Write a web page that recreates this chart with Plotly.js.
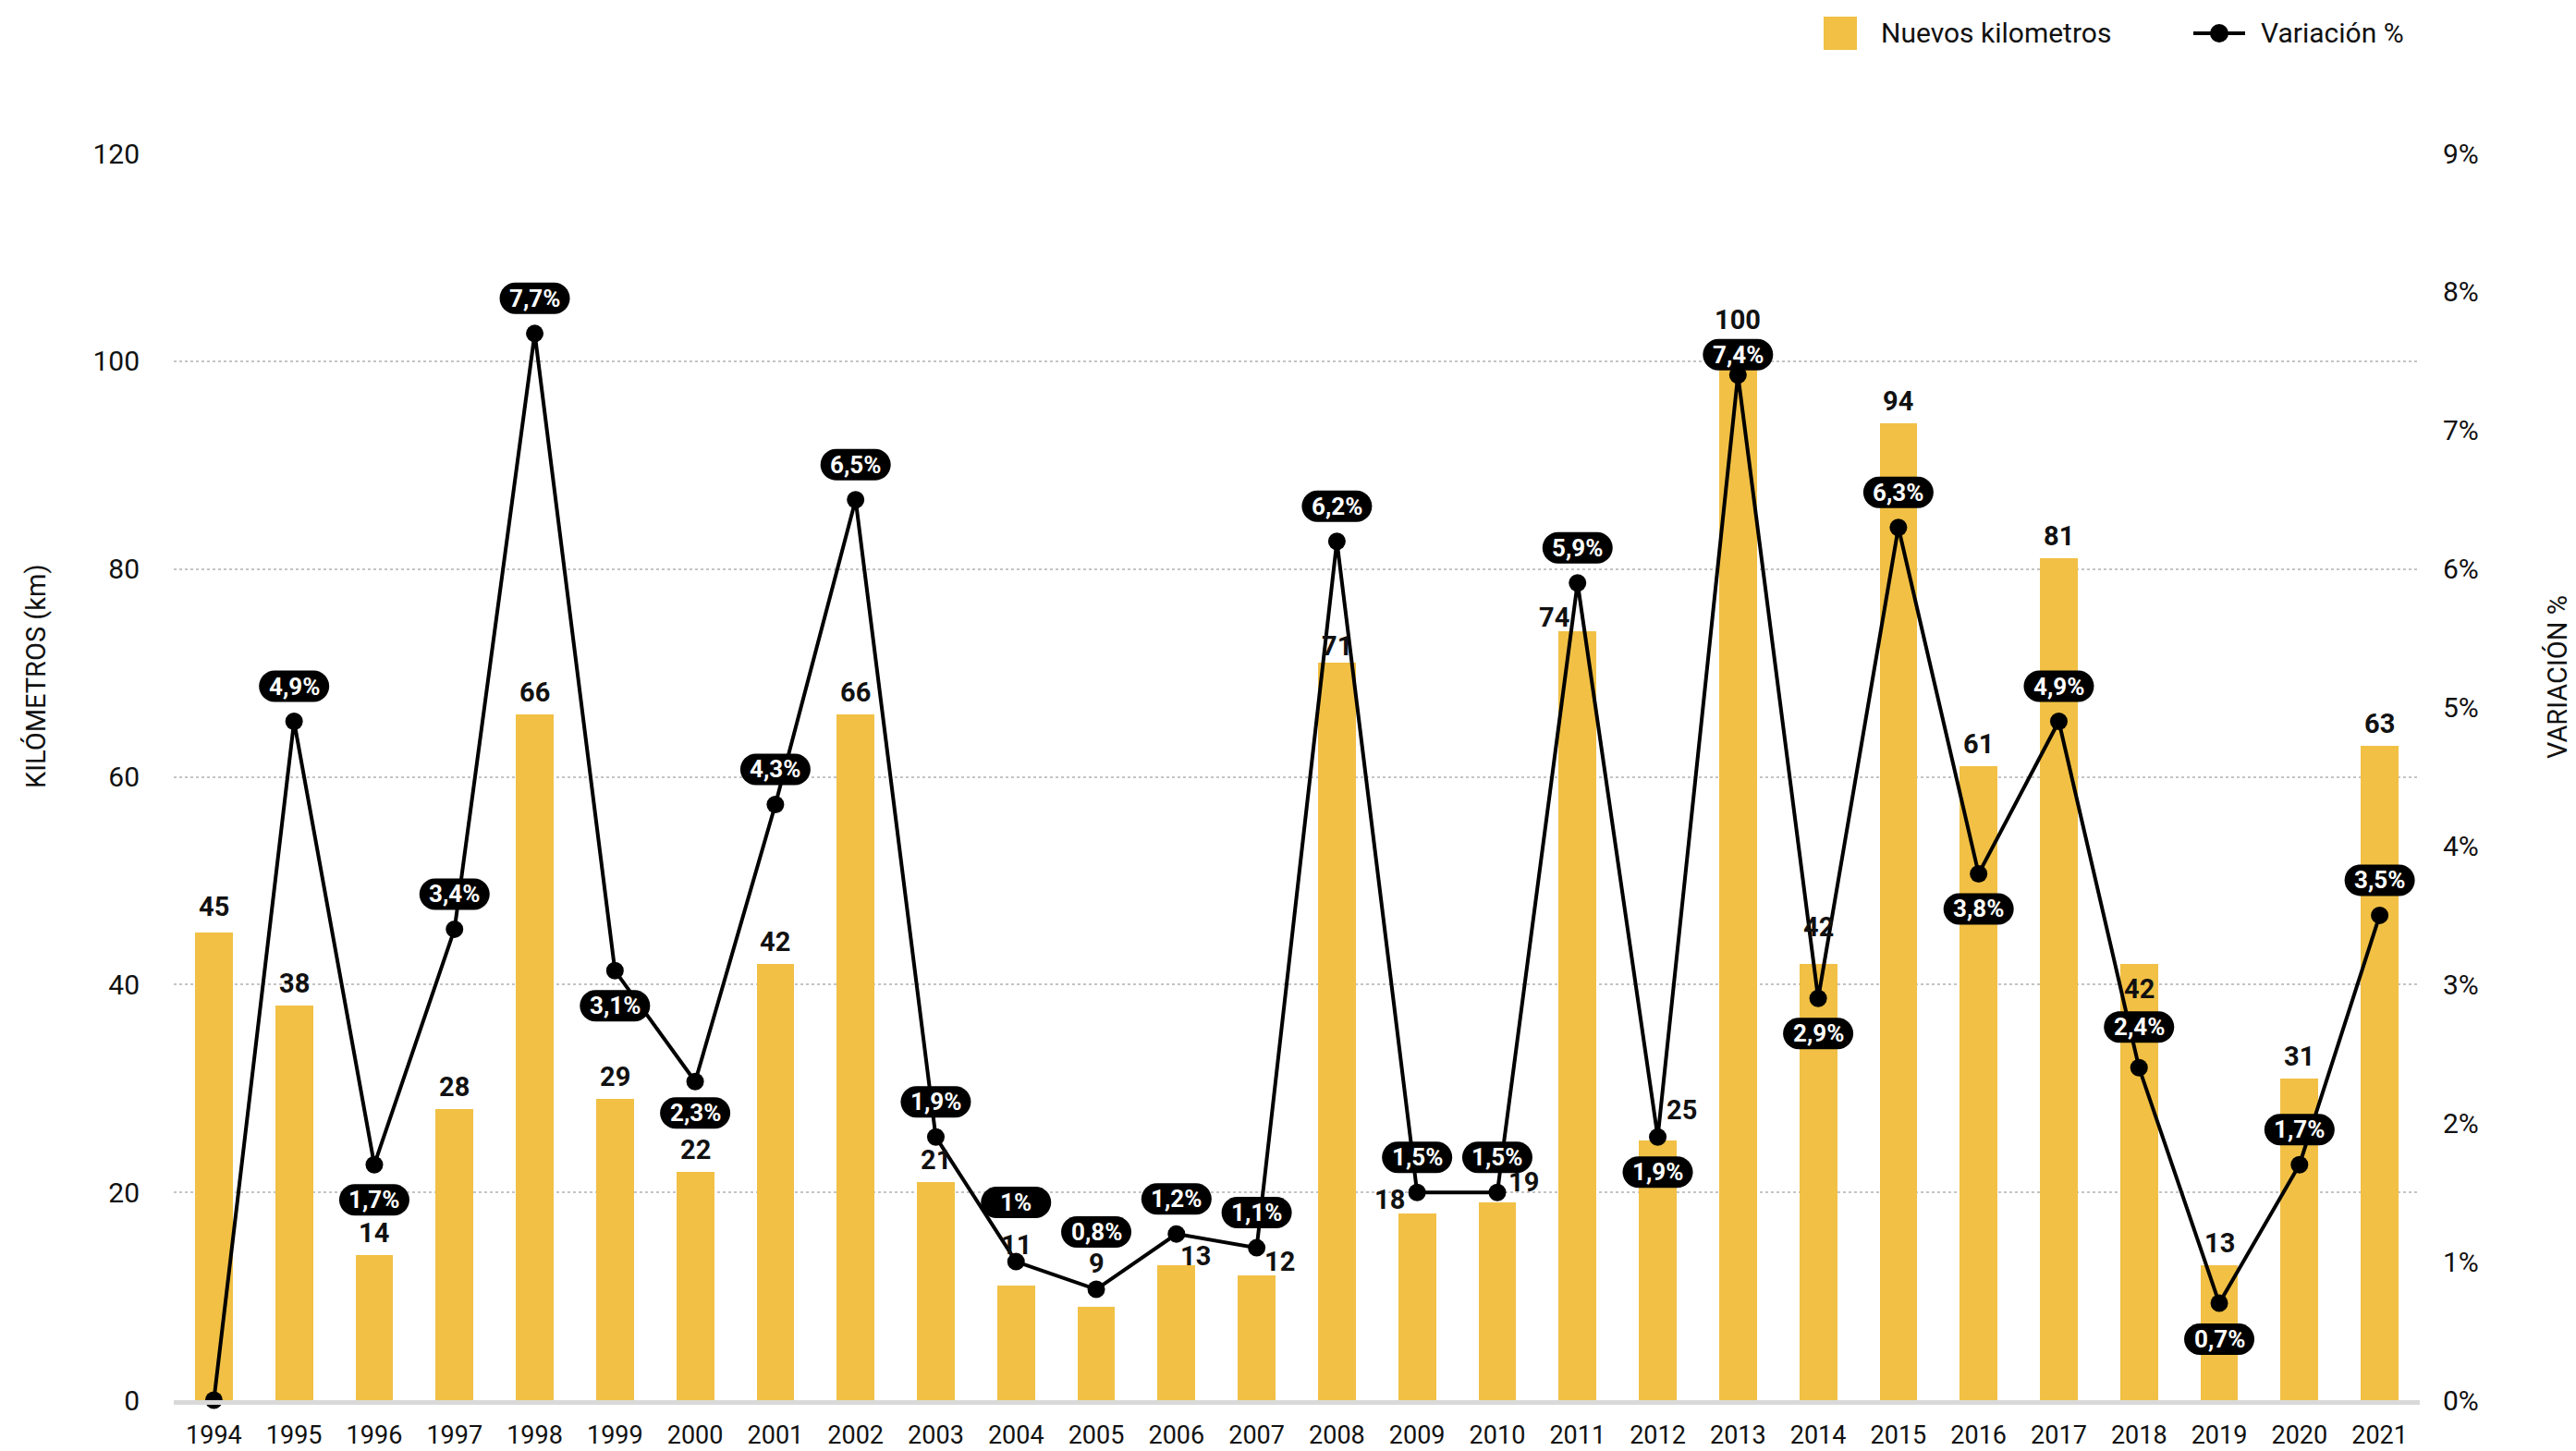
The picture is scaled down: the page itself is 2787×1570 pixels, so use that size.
<!DOCTYPE html>
<html>
<head>
<meta charset="utf-8">
<script src="https://cdn.plot.ly/plotly-3.0.1.min.js"></script>
<style>html,body{margin:0;padding:0;background:#fff;}</style>
</head>
<body>
<div id="chart" style="width:2787px;height:1570px;"></div>
<script>
// ---- data ----
const years = [1994,1995,1996,1997,1998,1999,2000,2001,2002,2003,2004,2005,2006,2007,2008,2009,2010,2011,2012,2013,2014,2015,2016,2017,2018,2019,2020,2021];
const nuevosKm = [45,38,14,28,66,29,22,42,66,21,11,9,13,12,71,18,19,74,25,100,42,94,61,81,42,13,31,63];
const variacionPct = [0,4.9,1.7,3.4,7.7,3.1,2.3,4.3,6.5,1.9,1.0,0.8,1.2,1.1,6.2,1.5,1.5,5.9,1.9,7.4,2.9,6.3,3.8,4.9,2.4,0.7,1.7,3.5];
const leftTicks = [0,20,40,60,80,100,120];
const rightTicks = [0,1,2,3,4,5,6,7,8,9];

// ---- styling (label placement offsets in pixels) ----
const barLabelShift = {   // index -> [xshift, yshift of label centre above bar top]
  0:[0,28], 10:[0,44], 11:[0,47], 12:[21,10], 13:[25,15],
  14:[0,18], 15:[-30,15], 16:[29,22], 17:[-25,15], 18:[26,33], 19:[0,45], 20:[0,40],
  24:[0,-27]
};
const pillShift = { // index -> y offset of pill centre relative to marker (up positive)
  2:-38, 5:-38, 6:-34, 10:64, 11:62, 12:38, 18:-38, 19:22, 20:-38, 22:-38, 24:44, 25:-39
};
const YELLOW = '#F1C045';
const FONT = 'Roboto, "Noto Sans", sans-serif';
const W = 2787, H = 1570;
const M = {l:188, r:169, t:166, b:55};
const plotW = W - M.l - M.r, plotH = H - M.t - M.b;
const px2x = p => (p - M.l) / plotW;
const px2y = p => (H - M.b - p) / plotH;

const idx = years.map((_, i) => i);

const traces = [
  {
    type: 'bar', x: idx, y: nuevosKm, width: 0.47,
    marker: {color: YELLOW}, name: 'Nuevos kilometros', hoverinfo: 'skip',
    showlegend: false
  },
  {
    type: 'scatter', mode: 'lines+markers', x: idx, y: variacionPct, yaxis: 'y2',
    line: {color: '#000', width: 4}, marker: {color: '#000', size: 19},
    name: 'Variación %', showlegend: false, cliponaxis: false
  }
];

const annotations = [];
const shapes = [];

// bar value labels
nuevosKm.forEach((v, i) => {
  const s = barLabelShift[i] || [0, 24];
  annotations.push({
    x: i, y: v, xref: 'x', yref: 'y', text: String(v), showarrow: false,
    xanchor: 'center', yanchor: 'middle', xshift: s[0], yshift: s[1],
    font: {family: FONT, size: 29, color: '#111', weight: 'bold'}
  });
});

// pill labels for the variation series
function pillPath(w, h, dy) {
  const r = h / 2, a = w / 2 - r, k = 0.5523 * r;
  return `M ${-a} ${dy - r} L ${a} ${dy - r} ` +
    `C ${a + k} ${dy - r} ${a + r} ${dy - k} ${a + r} ${dy} ` +
    `C ${a + r} ${dy + k} ${a + k} ${dy + r} ${a} ${dy + r} ` +
    `L ${-a} ${dy + r} ` +
    `C ${-a - k} ${dy + r} ${-a - r} ${dy + k} ${-a - r} ${dy} ` +
    `C ${-a - r} ${dy - k} ${-a - k} ${dy - r} ${-a} ${dy - r} Z`;
}
variacionPct.forEach((v, i) => {
  if (v === 0) return;
  const dy = (pillShift[i] !== undefined) ? pillShift[i] : 38;
  const label = String(v).replace('.', ',') + '%';
  shapes.push({
    type: 'path', xref: 'x', yref: 'y2', xsizemode: 'pixel', ysizemode: 'pixel',
    xanchor: i, yanchor: v, path: pillPath(76, 34, dy),
    fillcolor: '#000', line: {width: 0}, layer: 'above'
  });
  annotations.push({
    x: i, y: v, xref: 'x', yref: 'y2', text: label, showarrow: false,
    xanchor: 'center', yanchor: 'middle', yshift: dy,
    font: {family: FONT, size: 26, color: '#fff', weight: 'bold'}
  });
});

// axis titles
annotations.push({
  xref: 'paper', yref: 'paper', x: px2x(39), y: px2y(732), text: 'KILÓMETROS (km)',
  textangle: -90, showarrow: false, xanchor: 'center', yanchor: 'middle',
  font: {family: FONT, size: 29, color: '#111'}
});
annotations.push({
  xref: 'paper', yref: 'paper', x: px2x(2767), y: px2y(733), text: 'VARIACIÓN %',
  textangle: -90, showarrow: false, xanchor: 'center', yanchor: 'middle',
  font: {family: FONT, size: 29, color: '#111'}
});

// manual legend
const legY = px2y(36);
shapes.push({
  type: 'rect', xref: 'paper', yref: 'paper', xsizemode: 'pixel', ysizemode: 'pixel',
  xanchor: px2x(1991), yanchor: legY, x0: -18, x1: 18, y0: -18, y1: 18,
  fillcolor: YELLOW, line: {width: 0}
});
annotations.push({
  xref: 'paper', yref: 'paper', x: px2x(2033), y: legY, text: 'Nuevos kilometros',
  showarrow: false, xanchor: 'left', yanchor: 'middle',
  font: {family: FONT, size: 30, color: '#111'}
});
shapes.push({
  type: 'line', xref: 'paper', yref: 'paper', xsizemode: 'pixel', ysizemode: 'pixel',
  xanchor: px2x(2401), yanchor: legY, x0: -28, x1: 28, y0: 0, y1: 0,
  line: {color: '#000', width: 4}
});
shapes.push({
  type: 'circle', xref: 'paper', yref: 'paper', xsizemode: 'pixel', ysizemode: 'pixel',
  xanchor: px2x(2401), yanchor: legY, x0: -10, x1: 10, y0: -10, y1: 10,
  fillcolor: '#000', line: {width: 0}
});
annotations.push({
  xref: 'paper', yref: 'paper', x: px2x(2444), y: legY, text: 'Variación %',
  showarrow: false, xanchor: 'left', yanchor: 'middle',
  font: {family: FONT, size: 30, color: '#111'}
});

const layout = {
  width: W, height: H,
  margin: M,
  paper_bgcolor: '#fff', plot_bgcolor: '#fff',
  showlegend: false,
  bargap: 0,
  font: {family: FONT, size: 29, color: '#111'},
  xaxis: {
    range: [-0.5, years.length - 0.5], tickmode: 'array', tickvals: idx,
    ticktext: years.map(String), showgrid: false, zeroline: false,
    showline: true, linecolor: '#d9d9d9', linewidth: 5, ticks: '',
    ticklabelstandoff: 10,
    tickfont: {family: FONT, size: 27, color: '#111'}
  },
  yaxis: {
    range: [0, 120], tickmode: 'array', tickvals: leftTicks,
    showgrid: true, gridcolor: '#c4c4c4', gridwidth: 2, griddash: 'dot',
    zeroline: false, showline: false, ticks: '', ticklabelstandoff: 36,
    tickfont: {family: FONT, size: 30, color: '#111'}
  },
  yaxis2: {
    range: [0, 9], tickmode: 'array', tickvals: rightTicks,
    ticktext: rightTicks.map(t => t + '%'),
    overlaying: 'y', side: 'right', showgrid: false, zeroline: false,
    showline: false, ticks: '', ticklabelstandoff: 24,
    tickfont: {family: FONT, size: 30, color: '#111'}
  },
  annotations: annotations,
  shapes: shapes
};

Plotly.newPlot('chart', traces, layout, {staticPlot: true, displayModeBar: false});
</script>
</body>
</html>
